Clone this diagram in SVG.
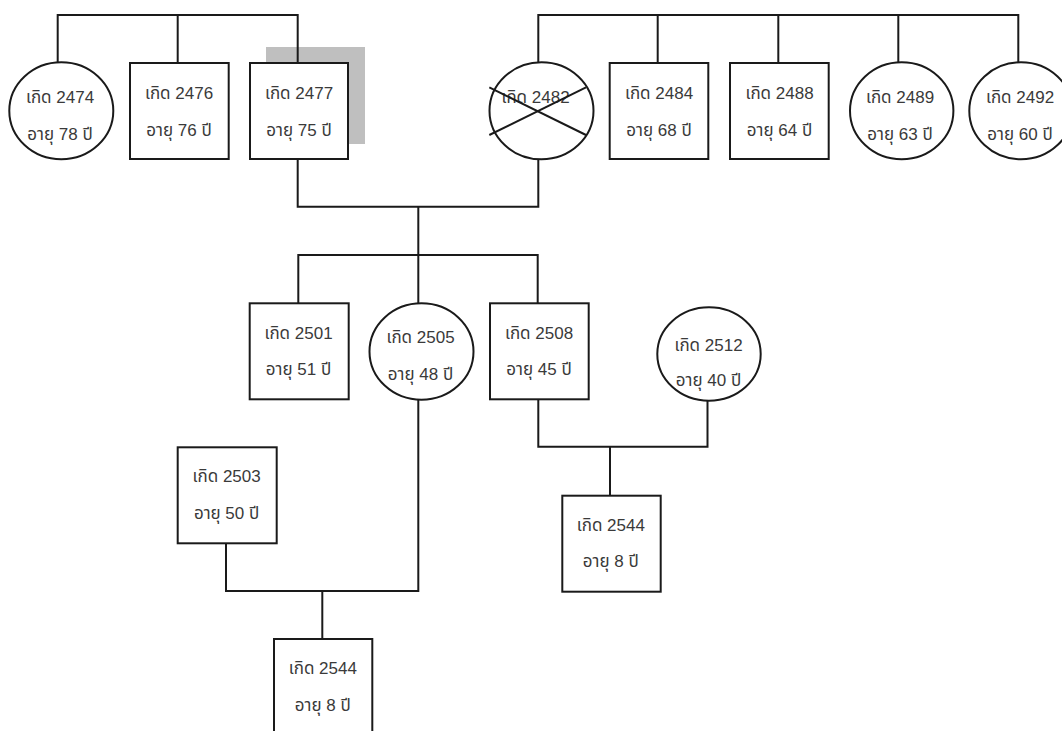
<svg xmlns="http://www.w3.org/2000/svg" width="1062" height="731" viewBox="0 0 1062 731">
<style>
.n{fill:#ffffff;stroke:#1a1a1a;stroke-width:2}
.x{fill:none;stroke:#1a1a1a;stroke-width:2}
.c{fill:none;stroke:#1a1a1a;stroke-width:2}
text{font-family:"Liberation Sans","Noto Sans Thai","Noto Sans",sans-serif;font-size:17px;fill:#3a3a3a;text-anchor:middle}
</style>
<rect x="0" y="0" width="1062" height="731" fill="#ffffff"/>
<rect x="266" y="47" width="99" height="97" fill="#bfbfbf"/>
<g id="connectors">
<polyline class="c" points="57.7,62.3 57.7,15 297.7,15 297.7,63"/>
<line class="c" x1="177.7" y1="15" x2="177.7" y2="63"/>
<polyline class="c" points="538.3,62.3 538.3,15 1018.3,15 1018.3,62.3"/>
<line class="c" x1="657.7" y1="15" x2="657.7" y2="63"/>
<line class="c" x1="778.3" y1="15" x2="778.3" y2="63"/>
<line class="c" x1="898.3" y1="15" x2="898.3" y2="62.3"/>
<polyline class="c" points="297.7,159 297.7,206.7 538.3,206.7 538.3,159.3"/>
<line class="c" x1="418.3" y1="206.7" x2="418.3" y2="255"/>
<polyline class="c" points="298.3,303.3 298.3,255 537.7,255 537.7,303.3"/>
<line class="c" x1="418.3" y1="255" x2="418.3" y2="303.3"/>
<polyline class="c" points="226,543.3 226,591 418.3,591 418.3,399.7"/>
<line class="c" x1="322.3" y1="591" x2="322.3" y2="639"/>
<polyline class="c" points="538.3,399 538.3,446.7 707.5,446.7 707.5,401"/>
<line class="c" x1="610" y1="446.7" x2="610" y2="495.7"/>
</g>
<g id="n2474"><ellipse class="n" cx="61.3" cy="110.8" rx="52" ry="48.5"/><text x="60" y="103">เกิด 2474</text><text x="60" y="140">อายุ 78 ปี</text></g>
<g id="n2476"><rect class="n" x="130" y="63" width="98.7" height="96"/><text x="179" y="99">เกิด 2476</text><text x="179" y="136">อายุ 76 ปี</text></g>
<g id="n2477"><rect class="n" x="250" y="63" width="98" height="96"/><text x="299" y="99">เกิด 2477</text><text x="299" y="136">อายุ 75 ปี</text></g>
<g id="n2482"><ellipse class="n" cx="541.5" cy="110.8" rx="52" ry="48.5"/><text x="535.5" y="103">เกิด 2482</text><line class="x" x1="489.3" y1="87.3" x2="586" y2="135"/><line class="x" x1="489.3" y1="135" x2="586" y2="87.3"/></g>
<g id="n2484"><rect class="n" x="609.7" y="63" width="98.6" height="96"/><text x="659" y="99">เกิด 2484</text><text x="659" y="136">อายุ 68 ปี</text></g>
<g id="n2488"><rect class="n" x="730" y="63" width="98.7" height="96"/><text x="779.5" y="99">เกิด 2488</text><text x="779.5" y="136">อายุ 64 ปี</text></g>
<g id="n2489"><ellipse class="n" cx="901.7" cy="110.8" rx="51.7" ry="48.5"/><text x="900" y="103">เกิด 2489</text><text x="900" y="140">อายุ 63 ปี</text></g>
<g id="n2492"><ellipse class="n" cx="1021" cy="110.8" rx="51.7" ry="48.5"/><text x="1020" y="103">เกิด 2492</text><text x="1020" y="140">อายุ 60 ปี</text></g>
<g id="n2501"><rect class="n" x="249.7" y="303.3" width="99" height="96"/><text x="298.5" y="338.5">เกิด 2501</text><text x="298.5" y="375">อายุ 51 ปี</text></g>
<g id="n2505"><ellipse class="n" cx="421.5" cy="351.5" rx="52" ry="48.2"/><text x="420.5" y="343.3">เกิด 2505</text><text x="420.5" y="380">อายุ 48 ปี</text></g>
<g id="n2508"><rect class="n" x="490" y="303.3" width="98.7" height="96"/><text x="539" y="338.5">เกิด 2508</text><text x="539" y="375">อายุ 45 ปี</text></g>
<g id="n2512"><ellipse class="n" cx="709" cy="354" rx="51.7" ry="46.7"/><text x="708.5" y="351">เกิด 2512</text><text x="708.5" y="386">อายุ 40 ปี</text></g>
<g id="n2503"><rect class="n" x="177.7" y="447.3" width="99" height="96"/><text x="226.6" y="482.3">เกิด 2503</text><text x="226.6" y="519">อายุ 50 ปี</text></g>
<g id="n2544a"><rect class="n" x="562.3" y="495.7" width="98.4" height="96"/><text x="610.8" y="530.5">เกิด 2544</text><text x="610.8" y="567">อายุ 8 ปี</text></g>
<g id="n2544b"><rect class="n" x="274" y="639" width="98.3" height="96"/><text x="322.8" y="674">เกิด 2544</text><text x="322.8" y="710.7">อายุ 8 ปี</text></g>
</svg>
